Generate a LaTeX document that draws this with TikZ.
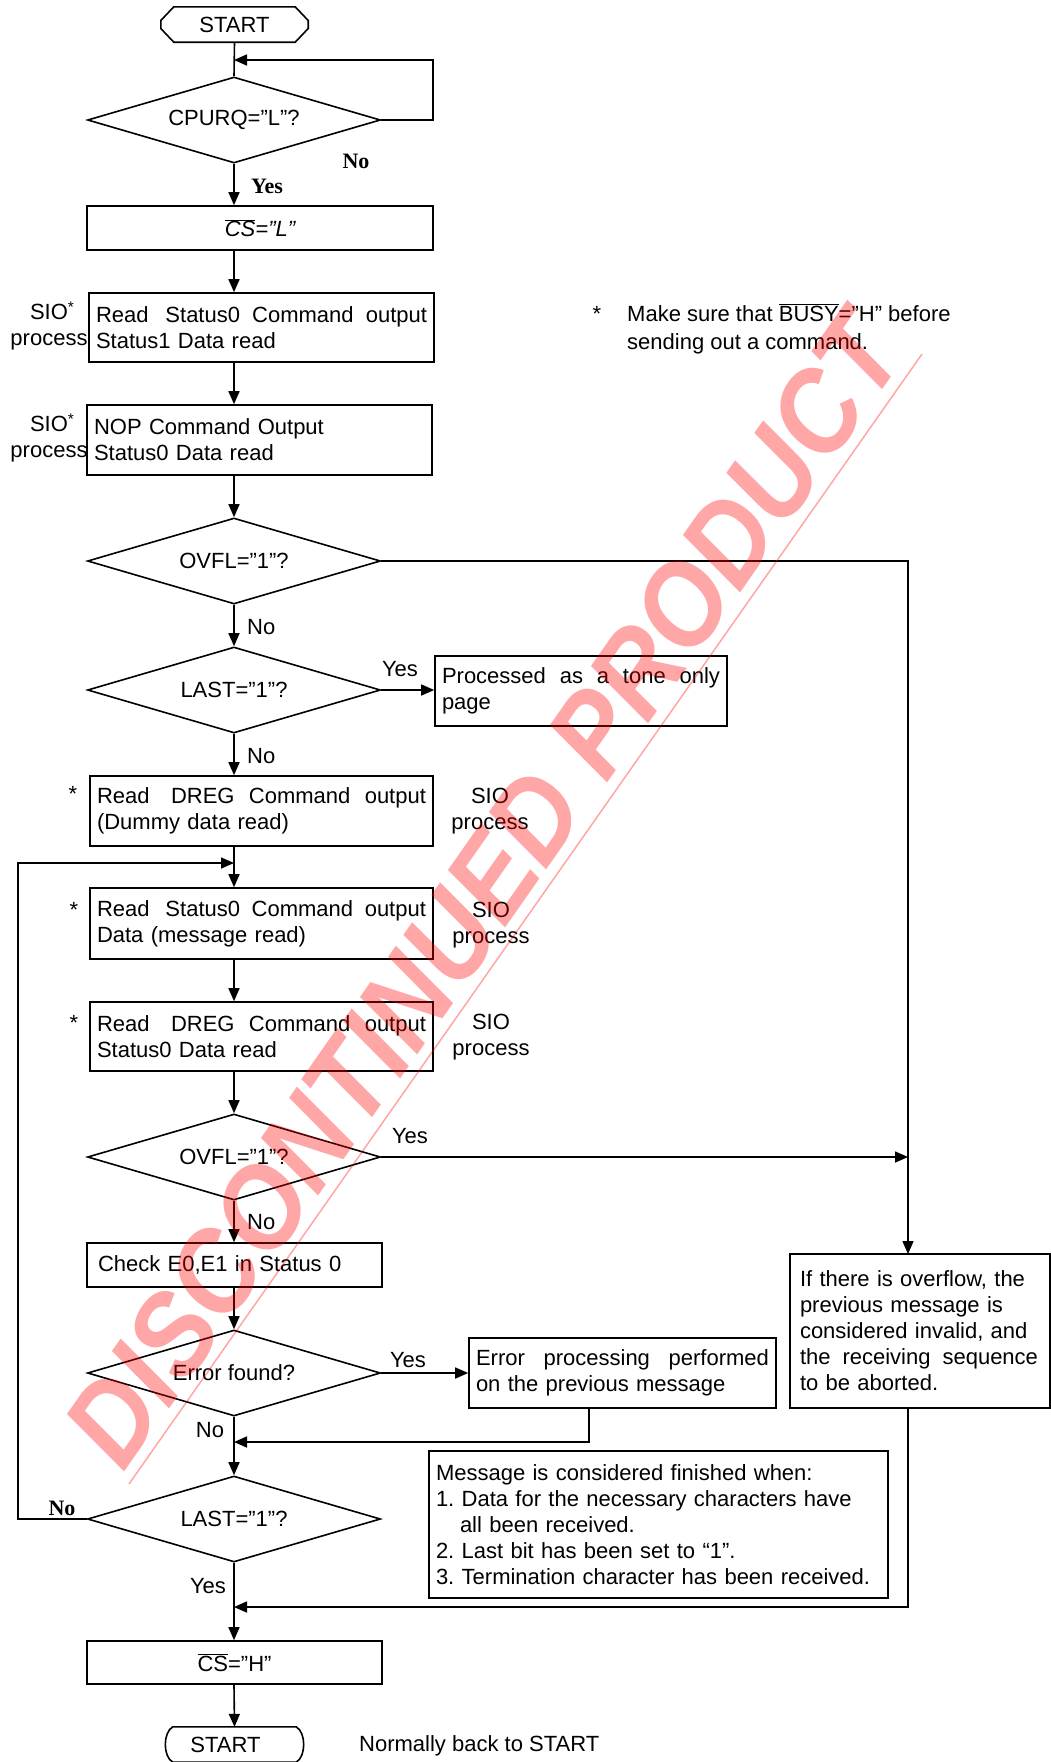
\documentclass[tikz,border=0pt]{standalone}
\usepackage{fontspec}
\setmainfont{Liberation Sans}
\newfontfamily\serifbold{Liberation Serif}
\usetikzlibrary{shapes.geometric,arrows.meta,calc}
\newcommand{\fs}{\fontsize{22}{26}\selectfont\frenchspacing}
\newcommand{\jline}[2]{\leavevmode\hbox to #1{#2}}
\definecolor{wmred}{RGB}{255,0,0}
\begin{document}
\begin{tikzpicture}[x=1pt,y=-1pt,
  every node/.style={font=\fs},
  ln/.style={line width=1.6pt},
  arr/.style={ln,-{Triangle[length=13pt,width=11pt]}},
  box/.style={draw,ln,rectangle,inner xsep=7pt,inner ysep=0pt,align=left},
  cbox/.style={draw,ln,rectangle,inner sep=0pt,align=center},
  dia/.style={draw,ln,diamond,aspect=3.4,inner sep=0pt,minimum width=293pt,minimum height=86pt},
  lbl/.style={inner sep=0pt},
  blbl/.style={inner sep=0pt,font=\fs\serifbold\bfseries},
  term/.style={inner sep=0pt,minimum width=147pt,minimum height=35pt},
]
\useasboundingbox (0,0) rectangle (1051,1762);

% ---------- nodes ----------
\node[term] (s1) at (234.5,24.5) {START};
\draw[ln] ($(s1.north west)+(13,0)$) -- ($(s1.north east)+(-13,0)$) -- ($(s1.east)+(0,-4)$) -- ($(s1.east)+(0,4)$)
  -- ($(s1.south east)+(-13,0)$) -- ($(s1.south west)+(13,0)$) -- ($(s1.west)+(0,4)$) -- ($(s1.west)+(0,-4)$) -- cycle;

\node[dia] (dia1) at (234,120) {CPURQ=\symbol{34}L”?};
\node[cbox,minimum width=346pt,minimum height=44pt] (csl) at (260,228)
  {$\overline{\mbox{\itshape CS}}$\itshape =”L”};
\node[box,text width=331pt,minimum height=69pt] (b1) at (261.5,327.5)
  {\jline{331pt}{Read \hfill\hfill Status0 \hfill Command \hfill output}\\Status1 Data read};
\node[box,text width=331pt,minimum height=70pt] (b2) at (259.5,440)
  {NOP Command Output\\Status0 Data read};
\node[dia] (dia2) at (234,561) {OVFL=”1”?};
\node[dia] (dia3) at (234,690) {LAST=”1”?};
\node[box,text width=278pt,minimum height=70pt] (tone) at (581,691)
  {\jline{278pt}{Processed \hfill as \hfill a \hfill tone \hfill only}\\page};
\node[box,text width=329pt,minimum height=70pt] (b3) at (261.5,811)
  {\jline{329pt}{Read \hfill\hfill DREG \hfill Command \hfill output}\\(Dummy data read)};
\node[box,text width=329pt,minimum height=71pt] (b4) at (261.5,923.5)
  {\jline{329pt}{Read \hfill\hfill Status0 \hfill Command \hfill output}\\Data (message read)};
\node[box,text width=329pt,minimum height=69pt] (b5) at (261.5,1036.5)
  {\jline{329pt}{Read \hfill\hfill DREG \hfill Command \hfill output}\\Status0 Data read};
\node[dia] (dia4) at (234,1157) {OVFL=”1”?};
\node[box,inner xsep=11pt,text width=273pt,minimum height=44pt] (check) at (234.5,1265)
  {Check E0,E1 in Status 0};
\node[dia] (dia5) at (234,1373) {Error found?};
\node[box,text width=293pt,minimum height=70pt] (err) at (622.5,1373)
  {\jline{293pt}{Error \hfill processing \hfill performed}\\on the previous message};
\node[box,inner xsep=10pt,text width=240pt,minimum height=154pt] (ovf) at (920,1331)
  {If there is overflow, the\\previous message is\\considered invalid, and\\\jline{238pt}{the \hfill receiving \hfill sequence}\\to be aborted.};
\node[box,text width=445pt,minimum height=147pt] (msg) at (658.5,1524.5)
  {Message is considered finished when:\\1. Data for the necessary characters have\\\hspace*{24pt}all been received.\\2. Last bit has been set to “1”.\\3. Termination character has been received.};
\node[dia] (dia6) at (234,1519) {LAST=”1”?};
\node[cbox,minimum width=295pt,minimum height=43pt] (csh) at (234.5,1662.5)
  {$\overline{\mbox{CS}}$=\symbol{34}H\symbol{34}};
\node[term] (s2) at (234.5,1744.5) {START\hspace*{18pt}};
\draw[ln] ($(s2.north west)+(12,0)$) -- ($(s2.north east)+(-12,0)$)
  .. controls ($(s2.east)+(-2,-12)$) and ($(s2.east)+(-2,12)$) .. ($(s2.south east)+(-12,0)$)
  -- ($(s2.south west)+(12,0)$)
  .. controls ($(s2.west)+(2,12)$) and ($(s2.west)+(2,-12)$) .. ($(s2.north west)+(12,0)$) -- cycle;

% side labels
\node[lbl,align=center] (sio1) at (49,326) {SIO\rlap{\textsuperscript{*}}\\process};
\node[lbl,align=center] (sio2) at (49,438) {SIO\rlap{\textsuperscript{*}}\\process};
\node[lbl,align=center] (sio3) at (490,811) {SIO\\process};
\node[lbl,align=center] (sio4) at (491,925) {SIO\\process};
\node[lbl,align=center] (sio5) at (491,1037) {SIO\\process};
\node[lbl,anchor=base] (st3) at (73,801) {*};
\node[lbl,anchor=base] (st4) at (74,917) {*};
\node[lbl,anchor=base] (st5) at (74,1030) {*};
\node[lbl,anchor=base] (stn) at (597,321) {*};
\node[lbl,anchor=base west] (note1) at (627,321) {Make sure that $\overline{\mbox{BUSY}}$=”H” before};
\node[lbl,anchor=base west] (note2) at (627,349) {sending out a command.};
\node[lbl,anchor=west] (back) at (359,1746) {Normally back to START};

% ---------- connectors ----------
\coordinate (q1) at (433,60);
\coordinate (r1) at (908,1254);
\coordinate (e1) at (589,1408);
\coordinate (j1) at (234,1442);
\coordinate (j2) at (18,863);
\coordinate (j3) at (234,1607);

\draw[ln] (s1.south) -- (dia1.north);
\draw[arr] (dia1.east) -| (q1) -- (dia1 |- q1);
\draw[arr] (dia1.south) -- (dia1 |- csl.north);
\draw[arr] (dia1 |- csl.south) -- (dia1 |- b1.north);
\draw[arr] (dia1 |- b1.south) -- (dia1 |- b2.north);
\draw[arr] (dia1 |- b2.south) -- (dia2.north);
\draw[arr] (dia2.south) -- (dia3.north);
\draw[arr] (dia3.east) -- (dia3.east -| tone.west);
\draw[arr] (dia3.south) -- (dia3 |- b3.north);
\draw[arr] (dia3 |- b3.south) -- (dia3 |- b4.north);
\draw[arr] (dia3 |- b4.south) -- (dia3 |- b5.north);
\draw[arr] (dia3 |- b5.south) -- (dia4.north);
\draw[arr] (dia2.east) -| (r1);
\draw[arr] (dia4.east) -- (dia4.east -| r1);
\draw[arr] (dia4.south) -- (dia4 |- check.north);
\draw[arr] (dia4 |- check.south) -- (dia5.north);
\draw[arr] (dia5.east) -- (dia5.east -| err.west);
\draw[arr] (e1) |- (j1);
\draw[arr] (dia5.south) -- (dia6.north);
\draw[arr] (dia6.west) -| (j2) -- (dia6 |- j2);
\draw[arr] (dia6.south) -- (dia6 |- csh.north);
\draw[arr] (r1 |- ovf.south) |- (j3);
\draw[arr] (dia6 |- csh.south) -- (s2.north);

% connector labels
\node[blbl] (n1) at (356,161) {No};
\node[blbl] (y1) at (267,186) {Yes};
\node[lbl,anchor=west] (n2) at (247,627) {No};
\node[lbl] (y3) at (400,669) {Yes};
\node[lbl,anchor=west] (n3) at (247,756) {No};
\node[lbl] (y4) at (410,1136) {Yes};
\node[lbl,anchor=west] (n4) at (247,1222) {No};
\node[lbl] (y5) at (408,1360) {Yes};
\node[lbl] (n5) at (210,1430) {No};
\node[blbl] (n6) at (62,1508) {No};
\node[lbl] (y6) at (208,1586) {Yes};

% ---------- watermark ----------
\node[lbl,rotate=55,xscale=0.92,text=wmred,text opacity=0.35,font=\fontsize{116}{116}\selectfont\bfseries\itshape] (wm) at (484,890) {DISCONTINUED PRODUCT};
\coordinate (w1) at (129,1484);
\coordinate (w2) at (922,354);
\draw[wmred,draw opacity=0.35,line width=1.5pt] (w1) -- (w2);
\end{tikzpicture}
\end{document}
